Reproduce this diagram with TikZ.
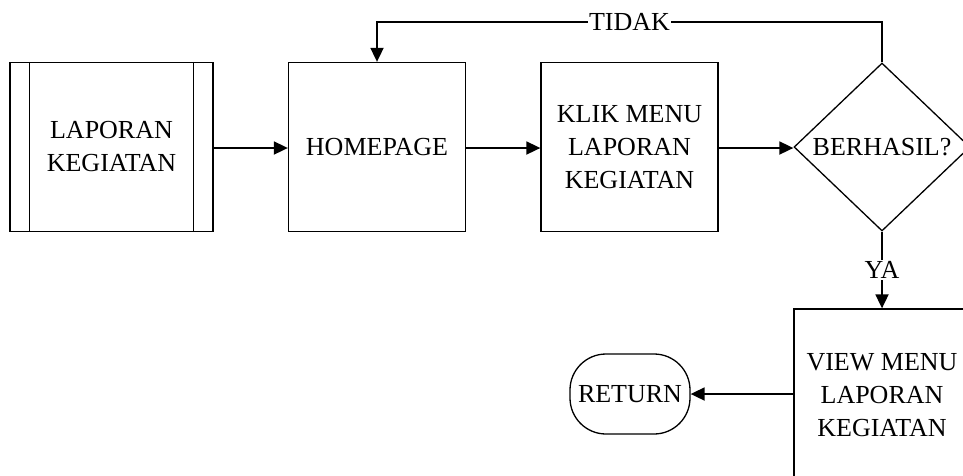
\documentclass[tikz,border=0pt]{standalone}
\usepackage{fontspec}
\setmainfont{Liberation Serif}
\usetikzlibrary{shapes.geometric,arrows.meta}
\begin{document}
\begin{tikzpicture}[x=1pt,y=-1pt,
  box/.style={draw,line width=1.3pt,minimum width=177pt,minimum height=169pt,inner sep=0pt,align=center,font=\fontsize{26}{33}\selectfont},
  dec/.style={draw,diamond,line width=1.3pt,minimum width=176pt,minimum height=168pt,inner sep=0pt,font=\fontsize{26}{33}\selectfont},
  term/.style={draw,rounded corners=36pt,line width=1.3pt,minimum width=120pt,minimum height=80pt,inner sep=0pt,font=\fontsize{26}{33}\selectfont},
  lbl/.style={fill=white,inner sep=1pt,font=\fontsize{26}{33}\selectfont},
  arr/.style={line width=1.8pt,-{Triangle[length=14pt,width=13pt]}},
  ln/.style={line width=1.8pt}]
\useasboundingbox (0,0) rectangle (963,475);
\node[box,minimum width=203pt] (lap) at (111.5,147) {LAPORAN\\KEGIATAN};
\draw[line width=1.3pt] ([xshift=20pt]lap.north west) -- ([xshift=20pt]lap.south west);
\draw[line width=1.3pt] ([xshift=-20pt]lap.north east) -- ([xshift=-20pt]lap.south east);
\node[box] (home) at (377,147) {HOMEPAGE};
\node[box] (klik) at (629.5,147) {KLIK MENU\\LAPORAN\\KEGIATAN};
\node[dec] (dec) at (882,147) {BERHASIL?};
\node[box,minimum width=176pt,minimum height=172pt] (view) at (882,395) {VIEW MENU\\LAPORAN\\KEGIATAN};
\node[term] (ret) at (630,394) {RETURN};
\coordinate (c1) at (882,22);
\coordinate (c2) at (377,22);
\draw[arr] (lap.east |- 0,148) -- (home.west |- 0,148);
\draw[arr] (home.east |- 0,148) -- (klik.west |- 0,148);
\draw[arr] (klik.east |- 0,148) -- (dec.west |- 0,148);
\draw[arr] (dec.north) -- (c1) -- node[lbl,pos=0.5]{TIDAK} (c2) -- (home.north);
\draw[arr] (dec.south) -- node[lbl,pos=0.5]{YA} (view.north);
\draw[arr] (view.west |- ret.east) -- (ret.east);
\end{tikzpicture}
\end{document}
